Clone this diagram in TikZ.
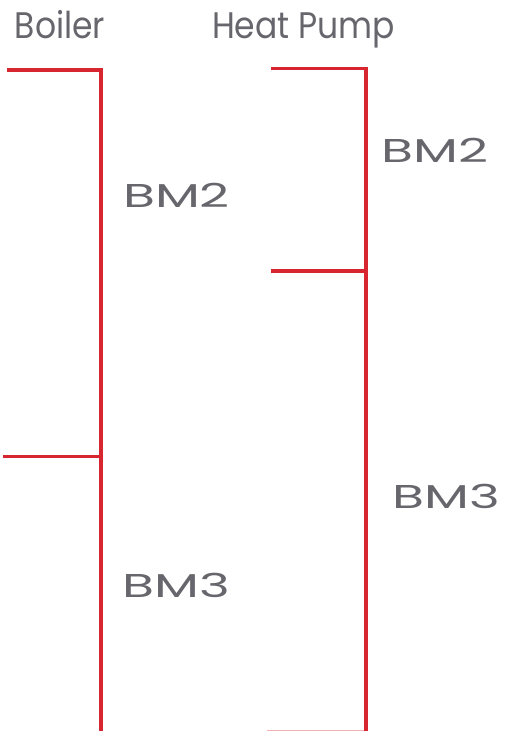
\documentclass[tikz,border=0pt]{standalone}
\usepackage{fontspec}
\setmainfont{Poppins}
\definecolor{pipe}{HTML}{D7262F}
\definecolor{txt}{HTML}{66666C}
\tikzset{
  pipe/.style={draw=pipe, line width=3.5pt, line cap=butt},
  faint/.style={draw=pipe!35, line width=1.5pt},
  title/.style={text=txt, anchor=base, inner sep=0pt, font=\fontsize{33}{33}\selectfont},
  bm/.style={text=txt, anchor=base, inner sep=0pt, font=\fontsize{33}{33}\selectfont},
}
\begin{document}
\begin{tikzpicture}[x=1pt,y=-1pt]
\useasboundingbox (0,0) rectangle (516,731);
% titles
\node[title] (tb) at (60,38) {\scalebox{1}[1.12]{Boiler}};
\node[title] (th) at (303.5,38) {\scalebox{1}[1.12]{Heat Pump}};
% boiler pipes
\coordinate (b1) at (7,70);
\coordinate (b2) at (101,70);
\coordinate (b3) at (101,731);
\coordinate (b4) at (3,456.5);
\coordinate (b5) at (101,456.5);
\draw[pipe] (b1) -- (b2) -- (b3);
\draw[pipe] (b4) -- (b5);
% heat pump pipes
\coordinate (h1) at (271,68.5);
\coordinate (h2) at (366,68.5);
\coordinate (h3) at (366,731);
\coordinate (h4) at (271,271);
\coordinate (h5) at (366,271);
\coordinate (h6) at (267,730.5);
\coordinate (h7) at (364,730.5);
\draw[pipe] (h1) -- (h2) -- (h3);
\draw[pipe] (h4) -- (h5);
\draw[faint] (h6) -- (h7);
% labels
\node[bm] (lb2) at (176.5,207) {\scalebox{1.58}[1]{BM2}};
\node[bm] (lb3) at (176.5,597) {\scalebox{1.58}[1]{BM3}};
\node[bm] (lh2) at (435,162) {\scalebox{1.58}[1]{BM2}};
\node[bm] (lh3) at (446,508) {\scalebox{1.58}[1]{BM3}};
\end{tikzpicture}
\end{document}
